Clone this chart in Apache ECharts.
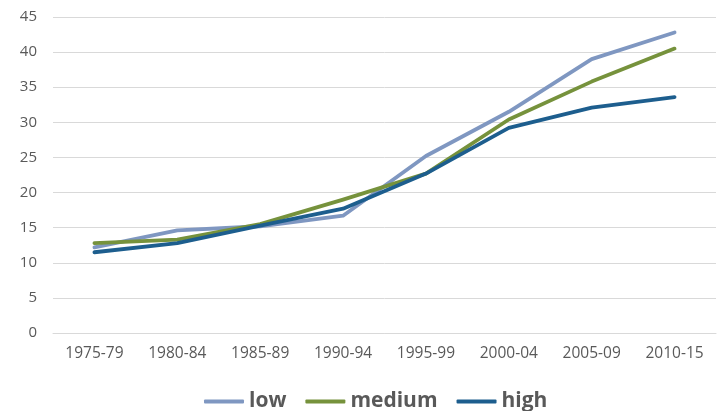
<!DOCTYPE html>
<html><head><meta charset="utf-8">
<script src="https://cdn.jsdelivr.net/npm/echarts@6/dist/echarts.min.js"></script>
<style>html,body{margin:0;padding:0;background:#fff}#c{width:722px;height:411px}</style>
</head><body><div id="c"></div>
<script>
const categories = ['1975-79','1980-84','1985-89','1990-94','1995-99','2000-04','2005-09','2010-15'];
const lowValues = [12.2, 14.6, 15.2, 16.7, 25.2, 31.5, 39.0, 42.8];
const mediumValues = [12.8, 13.3, 15.5, 19.0, 22.7, 30.4, 35.8, 40.5];
const highValues = [11.5, 12.8, 15.3, 17.7, 22.7, 29.2, 32.1, 33.6];
const yTicks = [0, 45, 5];

const chart = echarts.init(document.getElementById('c'), null, {renderer:'canvas'});
const font = 'Open Sans, sans-serif';
function line(name, data, color){
  return {name, type:'line', data, symbol:'none', smooth:false,
    lineStyle:{width:3.8, color, cap:'round', join:'round'}, itemStyle:{color}};
}
chart.setOption({
  animation:false,
  grid:{left:53, right:6, top:17, bottom:78, containLabel:false},
  legend:{top:390, left:204, itemWidth:40, itemHeight:4, itemGap:19,
    icon:'roundRect', padding:0,
    textStyle:{fontFamily:font, fontSize:21, fontWeight:'bold', color:'#595959', lineHeight:23},
    data:['low','medium','high']},
  xAxis:{type:'category', data:categories, boundaryGap:true,
    axisLine:{show:true, lineStyle:{color:'#d9d9d9'}}, axisTick:{show:false},
    axisLabel:{fontFamily:font, fontSize:15.5, color:'#595959', margin:13}},
  yAxis:{type:'value', min:yTicks[0], max:yTicks[1], interval:yTicks[2],
    axisLine:{show:false}, axisTick:{show:false},
    splitLine:{lineStyle:{color:'#d9d9d9'}},
    axisLabel:{fontFamily:font, fontSize:15, color:'#595959', margin:16}},
  series:[
    line('low', lowValues, '#7f97c1'),
    line('medium', mediumValues, '#76923c'),
    line('high', highValues, '#1d5e8e')
  ]
});
</script></body></html>
